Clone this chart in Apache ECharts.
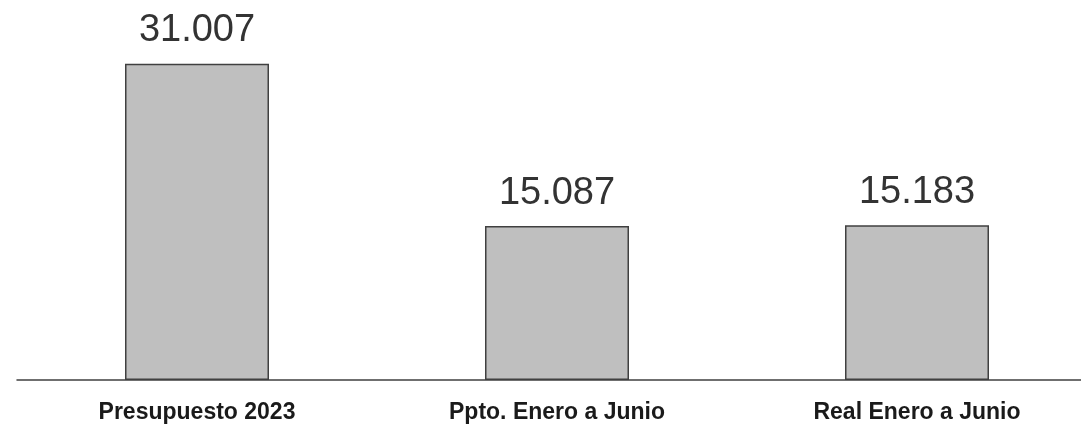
<!DOCTYPE html>
<html>
<head>
<meta charset="utf-8">
<script src="https://cdn.jsdelivr.net/npm/echarts@6/dist/echarts.min.js"></script>
<style>
html,body{margin:0;padding:0;background:#fff;overflow:hidden;width:1081px;height:424px;}
#chart{width:1097px;height:424px;}
</style>
</head>
<body>
<div id="chart"></div>
<script>
const categories = ['Presupuesto 2023', 'Ppto. Enero a Junio', 'Real Enero a Junio'];
const values = [31007, 15087, 15183];
const valueLabels = ['31.007', '15.087', '15.183'];

const chart = echarts.init(document.getElementById('chart'), null, {renderer: 'canvas'});
chart.setOption({
  animation: false,
  backgroundColor: '#ffffff',
  grid: {left: 17, right: 0, top: 23, bottom: 43, containLabel: false},
  xAxis: {
    type: 'category',
    data: categories,
    axisLine: {show: true, lineStyle: {color: '#404040', width: 1.5}},
    axisTick: {show: false},
    axisLabel: {
      margin: 21,
      color: '#1a1a1a',
      fontFamily: 'Liberation Sans, Arial, sans-serif',
      fontWeight: 'bold',
      fontSize: 23
    }
  },
  yAxis: {
    type: 'value',
    min: 0,
    max: 35000,
    show: false,
    splitLine: {show: false}
  },
  series: [{
    type: 'bar',
    data: values,
    barWidth: 144,
    itemStyle: {color: '#bfbfbf', borderColor: '#404040', borderWidth: 1.5},
    label: {
      show: true,
      position: 'top',
      distance: 14,
      color: '#333333',
      fontFamily: 'Liberation Sans, Arial, sans-serif',
      fontSize: 38,
      formatter: function (p) { return valueLabels[p.dataIndex]; }
    }
  }]
});
</script>
</body>
</html>
